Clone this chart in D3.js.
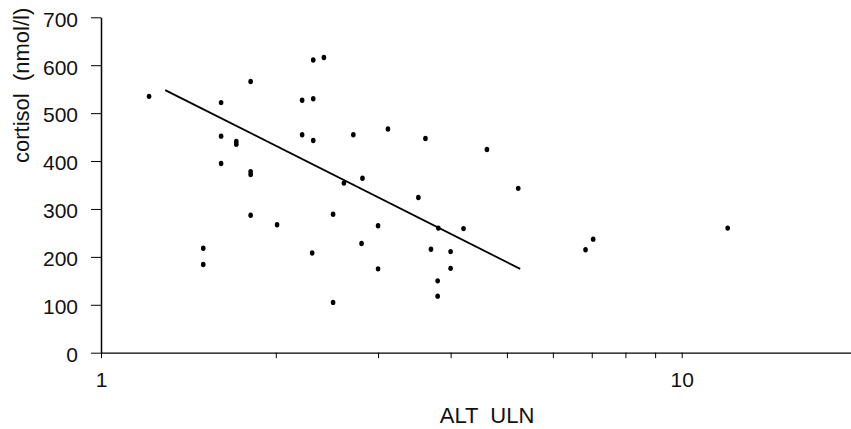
<!DOCTYPE html>
<html>
<head>
<meta charset="utf-8">
<script src="https://cdn.jsdelivr.net/npm/d3@7"></script>
<style>
  body { margin: 0; background: #fff; }
  svg { display: block; }
  .axis text { font-family: "Liberation Sans", Arial, sans-serif; font-size: 21px; fill: #111; }
  .axis path, .axis line { stroke: #000; }
  .title { font-family: "Liberation Sans", Arial, sans-serif; font-size: 22px; fill: #111; white-space: pre; }
</style>
</head>
<body>
<div id="chart"></div>
<script>
// ALT (multiples of ULN) vs cortisol
var altUln   = [1.21, 1.61, 1.81, 2.32, 2.42, 2.22, 2.32, 1.61, 1.71, 1.71, 2.22, 2.32, 2.72, 3.12, 3.62, 4.62,
                1.61, 1.81, 1.81, 2.62, 2.82, 3.52, 5.23, 1.81, 2.01, 2.51, 3.0, 3.81, 4.21, 1.5, 1.5,
                2.31, 2.81, 3.7, 4.0, 3.0, 4.0, 3.8, 3.8, 2.51, 6.83, 7.04, 12.0];
var cortisol = [535, 522, 566, 611, 616, 527, 530, 452, 441, 435, 455, 443, 455, 467, 447, 424,
                395, 378, 372, 354, 364, 324, 343, 287, 267, 289, 265, 260, 259, 218, 184,
                208, 228, 216, 211, 175, 176, 150, 118, 105, 215, 237, 260];

// regression line end points
var fitX = [1.29, 5.27];
var fitY = [548, 175];

var yTicks = [0, 100, 200, 300, 400, 500, 600, 700];
var xTicks = [1, 2, 3, 4, 5, 6, 7, 8, 9, 10];
var xLabels = [1, 10];

var width = 851, height = 429;

var svg = d3.select("#chart")
  .append("svg")
  .attr("width", width)
  .attr("height", height);

var x = d3.scaleLog()
  .domain([1, 20])
  .range([101, 101 + 580.7 * Math.log10(20)]);

var y = d3.scaleLinear()
  .domain([0, 700])
  .range([352.7, 17.3]);

// y axis
svg.append("g")
  .attr("class", "axis")
  .attr("transform", "translate(101,0)")
  .call(d3.axisLeft(y).tickValues(yTicks).tickSize(10).tickSizeOuter(0).tickPadding(13))
  .call(function(g) {
    g.select(".domain").attr("stroke-width", 1.5);
    g.selectAll(".tick text").attr("dy", "0.42em");
  });

// x axis
svg.append("g")
  .attr("class", "axis")
  .attr("transform", "translate(0,352.7)")
  .call(d3.axisBottom(x).tickValues(xTicks).tickSize(5.5).tickSizeOuter(0).tickPadding(13.5)
    .tickFormat(function(d) { return xLabels.indexOf(d) >= 0 ? d : ""; }))
  .call(function(g) {
    g.select(".domain").attr("stroke-width", 1.3);
  });

// regression line
var line = d3.line()
  .x(function(d) { return x(d[0]); })
  .y(function(d) { return y(d[1]); });

svg.append("path")
  .datum(d3.zip(fitX, fitY))
  .attr("d", line)
  .attr("fill", "none")
  .attr("stroke", "#000")
  .attr("stroke-width", 1.8);

// points
svg.selectAll("ellipse.pt")
  .data(d3.zip(altUln, cortisol))
  .enter()
  .append("ellipse")
  .attr("class", "pt")
  .attr("cx", function(d) { return x(d[0]); })
  .attr("cy", function(d) { return y(d[1]); })
  .attr("rx", 2.3)
  .attr("ry", 2.7)
  .attr("fill", "#000");

// axis titles
svg.append("text")
  .attr("class", "title")
  .attr("transform", "translate(28.5,163) rotate(-90)")
  .attr("text-anchor", "start")
  .text("cortisol  (nmol/l)");

svg.append("text")
  .attr("class", "title")
  .attr("x", 487)
  .attr("y", 423)
  .attr("text-anchor", "middle")
  .text("ALT  ULN");
</script>
</body>
</html>
